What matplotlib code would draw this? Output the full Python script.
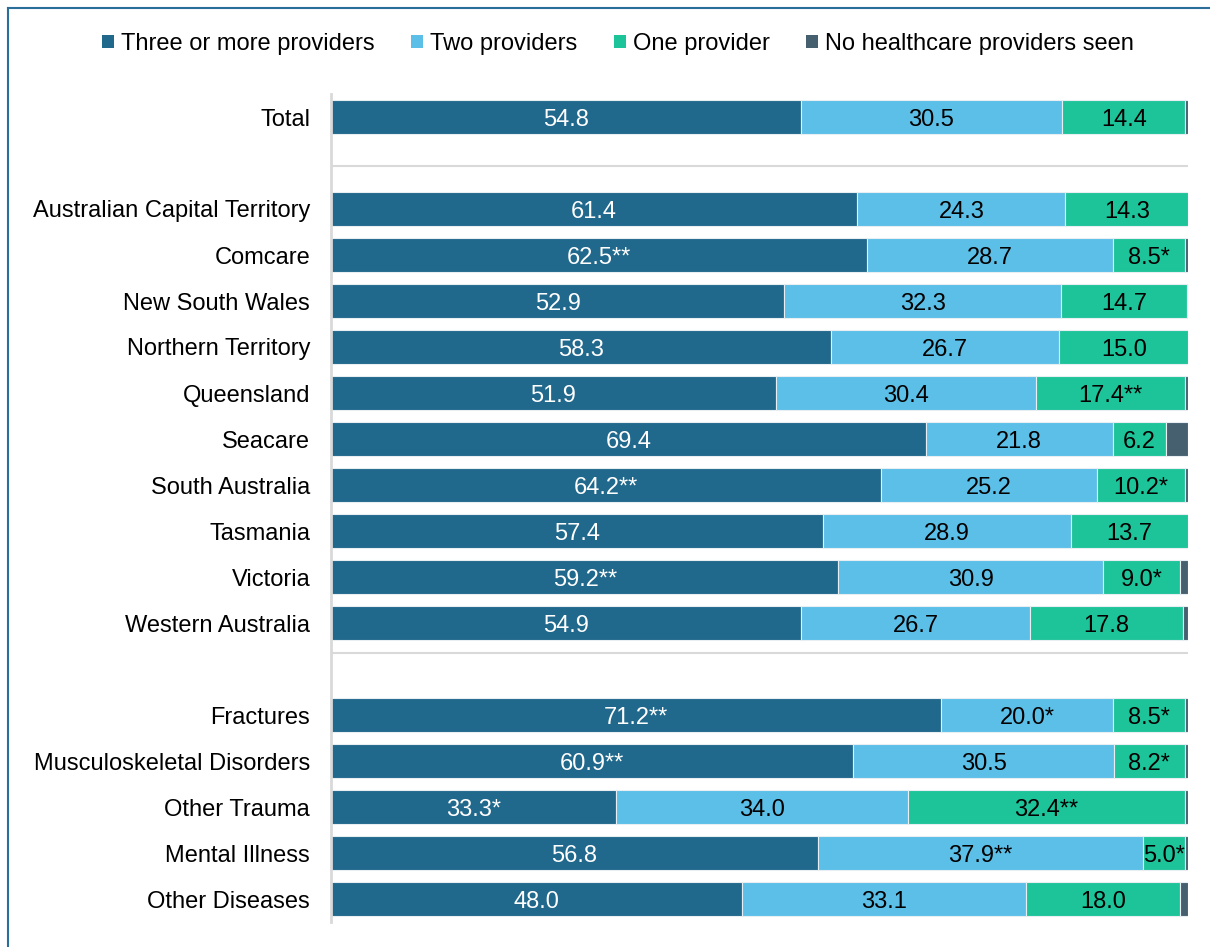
import matplotlib
matplotlib.use("Agg")
import matplotlib.pyplot as plt
from matplotlib.lines import Line2D
from matplotlib.patches import Patch

plt.rcParams['font.family'] = ['Liberation Sans', 'DejaVu Sans']

categories = ["Total", "", "Australian Capital Territory", "Comcare", "New South Wales",
              "Northern Territory", "Queensland", "Seacare", "South Australia", "Tasmania",
              "Victoria", "Western Australia", "", "Fractures", "Musculoskeletal Disorders",
              "Other Trauma", "Mental Illness", "Other Diseases"]

three_plus = [54.8, None, 61.4, 62.5, 52.9, 58.3, 51.9, 69.4, 64.2, 57.4, 59.2, 54.9, None,
              71.2, 60.9, 33.3, 56.8, 48.0]
two_prov = [30.5, None, 24.3, 28.7, 32.3, 26.7, 30.4, 21.8, 25.2, 28.9, 30.9, 26.7, None,
            20.0, 30.5, 34.0, 37.9, 33.1]
one_prov = [14.4, None, 14.3, 8.5, 14.7, 15.0, 17.4, 6.2, 10.2, 13.7, 9.0, 17.8, None,
            8.5, 8.2, 32.4, 5.0, 18.0]
no_prov = [0.3, None, 0.0, 0.3, 0.1, 0.0, 0.3, 2.6, 0.4, 0.0, 0.9, 0.6, None,
           0.3, 0.4, 0.3, 0.3, 0.9]

three_lbl = ["54.8", "", "61.4", "62.5**", "52.9", "58.3", "51.9", "69.4", "64.2**", "57.4",
             "59.2**", "54.9", "", "71.2**", "60.9**", "33.3*", "56.8", "48.0"]
two_lbl = ["30.5", "", "24.3", "28.7", "32.3", "26.7", "30.4", "21.8", "25.2", "28.9",
           "30.9", "26.7", "", "20.0*", "30.5", "34.0", "37.9**", "33.1"]
one_lbl = ["14.4", "", "14.3", "8.5*", "14.7", "15.0", "17.4**", "6.2", "10.2*", "13.7",
           "9.0*", "17.8", "", "8.5*", "8.2*", "32.4**", "5.0*", "18.0"]

series_names = ["Three or more providers", "Two providers", "One provider",
                "No healthcare providers seen"]
colors = ["#20688C", "#5BBFE8", "#1DC49A", "#46606F"]
label_colors = ["white", "black", "black", None]

FS = 17
W, H = 1210, 947
fig = plt.figure(figsize=(W / 100, H / 100), dpi=100)
ax = fig.add_axes([331 / W, 1 - 922 / H, (1188 - 331) / W, (922 - 94) / H])

series = [three_plus, two_prov, one_prov, no_prov]
labels = [three_lbl, two_lbl, one_lbl, None]

for i, cat in enumerate(categories):
    if three_plus[i] is None:
        continue
    left = 0.0
    for s, vals in enumerate(series):
        v = vals[i]
        if v > 0:
            ax.barh(i, v, left=left, height=0.74, color=colors[s],
                    edgecolor="#e8eef2", linewidth=0.8)
        if labels[s] is not None and labels[s][i]:
            ax.text(left + v / 2, i, labels[s][i], ha="center", va="center_baseline",
                    fontsize=FS, color=label_colors[s])
        left += v

ax.set_xlim(0, 100)
ax.set_ylim(len(categories) - 0.5, -0.5)
ax.set_yticks(range(len(categories)))
ax.set_yticklabels(categories, fontsize=FS)
ax.tick_params(axis="y", length=0, pad=15)
ax.set_xticks([])
for sp in ["top", "right", "bottom"]:
    ax.spines[sp].set_visible(False)
ax.spines["left"].set_color("#d9d9d9")
ax.spines["left"].set_linewidth(2)

for yy in [1.065, 11.65]:
    ax.axhline(yy, color="#d9d9d9", linewidth=1.5, zorder=0)

handles = [Patch(facecolor=c, edgecolor="none") for c in colors]
fig.legend(handles, series_names, loc="center", bbox_to_anchor=(618 / W, 1 - 44 / H),
           ncol=4, frameon=False, fontsize=FS, handlelength=0.5, handleheight=0.5,
           handletextpad=0.3, columnspacing=1.55)

# figure frame (top and left)
fig.add_artist(Line2D([8 / W, 1.0], [1 - 8 / H, 1 - 8 / H], transform=fig.transFigure,
                      color="#2A6E99", linewidth=1.5))
fig.add_artist(Line2D([8 / W, 8 / W], [0, 1 - 8 / H], transform=fig.transFigure,
                      color="#2A6E99", linewidth=1.5))

fig.savefig("out.png", dpi=100)
